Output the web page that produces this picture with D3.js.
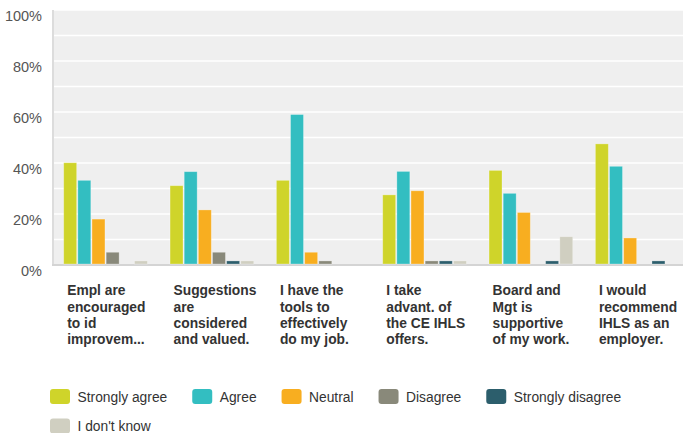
<!DOCTYPE html>
<html><head><meta charset="utf-8">
<script src="https://cdn.jsdelivr.net/npm/d3@7"></script>
<style>html,body{margin:0;padding:0;background:#fff;overflow:hidden}</style>
</head><body>
<svg id="c" width="683" height="433"></svg>
<script>
const categories = [
  ["Empl are","encouraged","to id","improvem..."],
  ["Suggestions","are","considered","and valued."],
  ["I have the","tools to","effectively","do my job."],
  ["I take","advant. of","the CE IHLS","offers."],
  ["Board and","Mgt is","supportive","of my work."],
  ["I would","recommend","IHLS as an","employer."]
];
const seriesNames = ["Strongly agree","Agree","Neutral","Disagree","Strongly disagree","I don't know"];
const stronglyAgree   = [40.1, 31.1, 33.2, 27.5, 37.1, 47.5];
const agree           = [33.2, 36.6, 59.0, 36.7, 28.1, 38.7];
const neutral         = [18.0, 21.6, 5.0, 29.1, 20.6, 10.6];
const disagree        = [5.0, 5.0, 1.6, 1.6, 0, 0];
const stronglyDisagree= [0, 1.6, 0, 1.6, 1.6, 1.6];
const dontKnow        = [1.6, 1.6, 0, 1.6, 11.1, 0];
const yTicks = [0,20,40,60,80,100];
const colors = ["#cfd42a","#33bec1","#f8ae20","#89897a","#2c5e6c","#d0cfc1"];

const series = [stronglyAgree, agree, neutral, disagree, stronglyDisagree, dontKnow];
const svg = d3.select("#c");
const pLeft = 53, pTop = 10, pBottom = 265, plotW = 638;
const ids = categories.map((d,i)=>i);
const x = d3.scaleBand().domain(ids).range([pLeft, pLeft+plotW]);
const y = d3.scaleLinear().domain([0,100]).range([pBottom, pTop]);
const step = 14.15;
const groupW = step*series.length;

svg.append("rect").attr("x",pLeft).attr("y",pTop).attr("width",plotW).attr("height",pBottom-pTop).attr("fill","#efefef");
svg.append("g").selectAll("line").data(d3.range(10,101,10)).join("line")
  .attr("x1",pLeft).attr("x2",pLeft+plotW).attr("y1",d=>y(d)).attr("y2",d=>y(d))
  .attr("stroke","#fff").attr("stroke-width",1.5);
svg.append("line").attr("x1",pLeft).attr("x2",pLeft).attr("y1",pTop).attr("y2",pBottom+1)
  .attr("stroke","#dcdcdc").attr("stroke-width",2);
svg.append("line").attr("x1",pLeft-1).attr("x2",pLeft+plotW).attr("y1",pBottom).attr("y2",pBottom)
  .attr("stroke","#d4d4d4").attr("stroke-width",2);

svg.append("g").selectAll("text").data(yTicks).join("text")
  .attr("x",42).attr("y",d=>y(d)+11).attr("text-anchor","end")
  .attr("font-family","Liberation Sans, Arial, sans-serif").attr("font-size",14.5).attr("fill","#555")
  .text(d=>d+"%");

series.forEach((vals,si)=>{
  svg.append("g").selectAll("rect").data(vals).join("rect")
    .attr("x",(d,i)=>x(i)+(x.bandwidth()-groupW)/2+si*step)
    .attr("width",step-1.2)
    .attr("y",d=>y(d)).attr("height",d=>pBottom-1-y(d))
    .attr("fill",colors[si]).attr("stroke","rgba(255,255,255,0.35)").attr("stroke-width",0.8);
});

const cl = svg.append("g").selectAll("text").data(categories).join("text")
  .attr("font-family","Liberation Sans, Arial, sans-serif").attr("font-size",13.8).attr("font-weight","bold").attr("fill","#333")
  .attr("transform",(d,i)=>`translate(${x(i)+(x.bandwidth()-groupW)/2+3.5},295.3)`);
cl.selectAll("tspan").data(d=>d).join("tspan").attr("x",0).attr("y",(d,j)=>j*16.3).text(d=>d);

// legend
const lg = svg.append("g");
let lx = 50, ly = 396.5;
seriesNames.forEach((n,i)=>{
  const g = lg.append("g");
  g.append("rect").attr("y",-7.5).attr("width",20).attr("height",15).attr("rx",3).attr("fill",colors[i]);
  const t = g.append("text").attr("x",27.5).attr("y",5).attr("font-family","Liberation Sans, Arial, sans-serif")
    .attr("font-size",13.8).attr("fill","#333").text(n);
  const w = 27.5 + t.node().getComputedTextLength();
  if (lx + w > 640) { lx = 50; ly += 29.5; }
  g.attr("transform",`translate(${lx},${ly})`);
  lx += w + 25;
});
</script>
</body></html>
